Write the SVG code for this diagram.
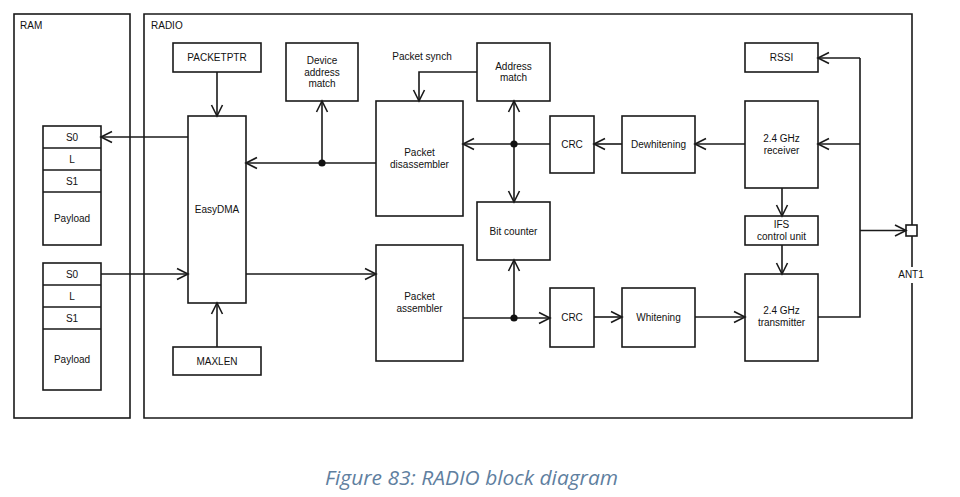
<svg xmlns="http://www.w3.org/2000/svg" width="960" height="497" viewBox="0 0 960 497">
<style>
.b{fill:#fff;stroke:#1a1a1a;stroke-width:1.6}
.c{fill:none;stroke:#1a1a1a;stroke-width:1.6}
.a{marker-end:url(#arr)}
text{font-family:"Liberation Sans",Arial,sans-serif;font-size:10px;fill:#111;text-anchor:middle}
.l{text-anchor:start}
.cap{font-family:"Open Sans","Noto Sans",sans-serif;font-style:italic;font-size:19.5px;fill:#5f7f9f;text-anchor:start}
</style>
<defs>
<marker id="arr" markerUnits="userSpaceOnUse" markerWidth="14" markerHeight="14" viewBox="-12 -7 14 14" refX="0" refY="0" orient="auto" overflow="visible">
<path d="M-11,-5.5 L0,0 L-11,5.5" fill="none" stroke="#1a1a1a" stroke-width="1.6"/>
</marker>
</defs>
<rect width="960" height="497" fill="#fff"/>

<g id="ram">
<rect class="b" x="14" y="14" width="116" height="404"/>
<text class="l" x="20" y="29">RAM</text>
</g>
<g id="radio">
<path class="c" d="M912,283 V418 H144 V14 H912 V225"/>
<path class="c" d="M912,236 V267"/>
<text class="l" x="151" y="29">RADIO</text>
</g>

<g id="ram-list-rx">
<rect class="b" x="43" y="126" width="58" height="119"/>
<path class="c" d="M43,148 H101 M43,170 H101 M43,192 H101"/>
<text x="72" y="140.5">S0</text>
<text x="72" y="162.5">L</text>
<text x="72" y="184.5">S1</text>
<text x="72" y="221.5">Payload</text>
</g>
<g id="ram-list-tx">
<rect class="b" x="43" y="263" width="58" height="127"/>
<path class="c" d="M43,285 H101 M43,307 H101 M43,329 H101"/>
<text x="72" y="277.5">S0</text>
<text x="72" y="299.5">L</text>
<text x="72" y="321.5">S1</text>
<text x="72" y="362.5">Payload</text>
</g>

<g id="packetptr"><rect class="b" x="173" y="43" width="88" height="29"/><text x="217" y="61">PACKETPTR</text></g>
<g id="easydma"><rect class="b" x="188" y="116" width="58" height="187"/><text x="217" y="212.5">EasyDMA</text></g>
<g id="maxlen"><rect class="b" x="173" y="347" width="88" height="28"/><text x="217" y="364.5">MAXLEN</text></g>
<g id="devaddr"><rect class="b" x="286" y="43" width="72" height="58"/><text x="322" y="64">Device</text><text x="322" y="75.5">address</text><text x="322" y="87">match</text></g>
<g id="disasm"><rect class="b" x="376" y="101" width="87" height="115"/><text x="419.5" y="156">Packet</text><text x="419.5" y="168">disassembler</text></g>
<g id="asm"><rect class="b" x="376" y="245" width="87" height="116"/><text x="419.5" y="300">Packet</text><text x="419.5" y="312">assembler</text></g>
<g id="addrmatch"><rect class="b" x="477" y="43" width="73" height="58"/><text x="513.5" y="69.5">Address</text><text x="513.5" y="81">match</text></g>
<g id="bitcounter"><rect class="b" x="477" y="202" width="73" height="58"/><text x="513.5" y="234.5">Bit counter</text></g>
<g id="crc-rx"><rect class="b" x="550" y="116" width="44" height="57"/><text x="572" y="147.5">CRC</text></g>
<g id="crc-tx"><rect class="b" x="550" y="288" width="44" height="59"/><text x="572" y="320.5">CRC</text></g>
<g id="dewhitening"><rect class="b" x="622" y="116" width="73" height="57"/><text x="658.5" y="147.5">Dewhitening</text></g>
<g id="whitening"><rect class="b" x="622" y="288" width="73" height="59"/><text x="658.5" y="320.5">Whitening</text></g>
<g id="rssi"><rect class="b" x="745" y="43" width="73" height="29"/><text x="781.5" y="60.5">RSSI</text></g>
<g id="receiver"><rect class="b" x="745" y="101" width="73" height="87"/><text x="781.5" y="142">2.4 GHz</text><text x="781.5" y="154">receiver</text></g>
<g id="ifs"><rect class="b" x="745" y="216" width="73" height="29"/><text x="781.5" y="228">IFS</text><text x="781.5" y="239.5">control unit</text></g>
<g id="transmitter"><rect class="b" x="745" y="274" width="73" height="87"/><text x="781.5" y="314">2.4 GHz</text><text x="781.5" y="326">transmitter</text></g>
<g id="ant1"><rect class="b" x="906" y="225" width="11" height="11"/><text x="911" y="278">ANT1</text></g>
<text x="422" y="60">Packet synch</text>

<g id="connectors">
<path class="c a" d="M217,72 V116"/>
<path class="c a" d="M217,347 V303"/>
<path class="c a" d="M188,137 H101"/>
<path class="c a" d="M101,274 H188"/>
<path class="c a" d="M376,163 H246"/>
<path class="c a" d="M322,163 V101"/>
<path class="c a" d="M246,274 H376"/>
<path class="c a" d="M477,72 H419 V101"/>
<path class="c a" d="M550,144 H463"/>
<path class="c a" d="M514,144 V101"/>
<path class="c a" d="M514,144 V202"/>
<path class="c a" d="M463,318 H550"/>
<path class="c a" d="M514,318 V260"/>
<path class="c a" d="M622,144 H594"/>
<path class="c a" d="M745,144 H695"/>
<path class="c a" d="M594,317 H622"/>
<path class="c a" d="M695,317 H745"/>
<path class="c a" d="M782,188 V216"/>
<path class="c a" d="M782,245 V274"/>
<path class="c" d="M818,317 H860 V58"/>
<path class="c a" d="M860,58 H818"/>
<path class="c a" d="M860,144 H818"/>
<path class="c a" d="M860,230.5 H906"/>
<circle cx="322" cy="163" r="3.6" fill="#111"/>
<circle cx="514" cy="144" r="3.6" fill="#111"/>
<circle cx="514" cy="318" r="3.6" fill="#111"/>
</g>

<text class="cap" x="325" y="485" textLength="293" lengthAdjust="spacingAndGlyphs">Figure 83: RADIO block diagram</text>
</svg>
